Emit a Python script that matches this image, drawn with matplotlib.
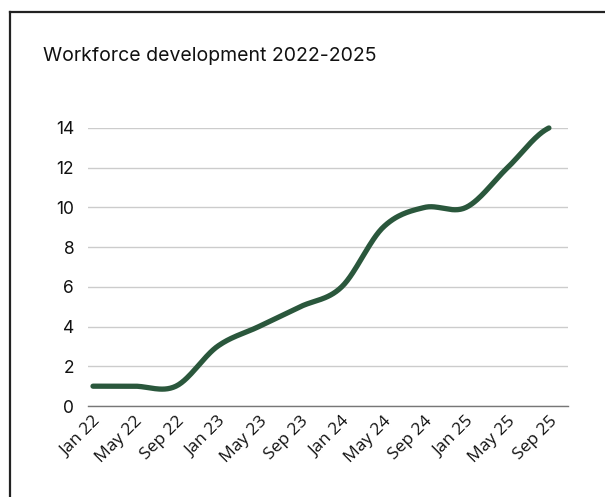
import matplotlib.pyplot as plt
import numpy as np
from matplotlib.lines import Line2D

months = ['Jan 22', 'May 22', 'Sep 22', 'Jan 23', 'May 23', 'Sep 23',
          'Jan 24', 'May 24', 'Sep 24', 'Jan 25', 'May 25', 'Sep 25']
workforce = [1, 1, 1, 3, 4, 5, 6, 9, 10, 10, 12, 14]
y_ticks = [0, 2, 4, 6, 8, 10, 12, 14]

LINE_COLOR = '#2a573c'


def catmull_rom(x, y, steps=30):
    # smooth curve through every point, like the chart lib does
    x = np.asarray(x, float)
    y = np.asarray(y, float)
    px = np.concatenate([[2 * x[0] - x[1]], x, [2 * x[-1] - x[-2]]])
    py = np.concatenate([[y[0]], y, [y[-1]]])
    xs, ys = [], []
    for i in range(1, len(px) - 2):
        t = np.linspace(0, 1, steps, endpoint=False)
        for p, out in ((px, xs), (py, ys)):
            p0, p1, p2, p3 = p[i - 1], p[i], p[i + 1], p[i + 2]
            m1 = (p2 - p0) / 2
            m2 = (p3 - p1) / 2
            h00 = 2 * t**3 - 3 * t**2 + 1
            h10 = t**3 - 2 * t**2 + t
            h01 = -2 * t**3 + 3 * t**2
            h11 = t**3 - t**2
            out.extend(h00 * p1 + h10 * m1 + h01 * p2 + h11 * m2)
    xs.append(x[-1])
    ys.append(y[-1])
    return np.array(xs), np.array(ys)


def main():
    plt.rcParams['font.family'] = ['Inter', 'DejaVu Sans']
    fig = plt.figure(figsize=(6.05, 4.97), dpi=100)
    ax = fig.add_axes([0.1455, 0.183, 0.7933, 0.5595])

    # card frame (runs off the right and bottom edges)
    fig.add_artist(Line2D([10 / 605, 10 / 605], [0, 1 - 12 / 497],
                          transform=fig.transFigure, color='#222222', lw=1.6))
    fig.add_artist(Line2D([10 / 605, 1], [1 - 12 / 497, 1 - 12 / 497],
                          transform=fig.transFigure, color='#222222', lw=1.6))

    fig.text(43 / 605, 1 - 61 / 497, 'Workforce development 2022-2025',
             fontsize=14, color='#111111', va='baseline')

    x = np.arange(len(months))
    sx, sy = catmull_rom(x, workforce)
    ax.plot(sx, sy, color=LINE_COLOR, lw=3.8, solid_capstyle='round',
            clip_on=False, zorder=3)

    ax.set_xlim(-0.12, len(months) - 1 + 0.46)
    ax.set_ylim(0, 14)
    ax.set_yticks(y_ticks)
    ax.set_xticks(x)
    ax.set_xticklabels(months, rotation=45, ha='right', rotation_mode='anchor',
                       family=['Open Sans', 'DejaVu Sans'])
    ax.tick_params(axis='y', length=0, pad=10, labelsize=12.5, labelcolor='#111111')
    ax.tick_params(axis='x', length=0, pad=5, labelsize=12.5, labelcolor='#111111')
    ax.grid(axis='y', color='#cccccc', lw=1)
    ax.set_axisbelow(True)
    for side in ['top', 'right', 'left']:
        ax.spines[side].set_visible(False)
    ax.spines['bottom'].set_color('#777777')
    ax.spines['bottom'].set_linewidth(1)

    fig.savefig('out.png', dpi=100)


if __name__ == '__main__':
    main()
